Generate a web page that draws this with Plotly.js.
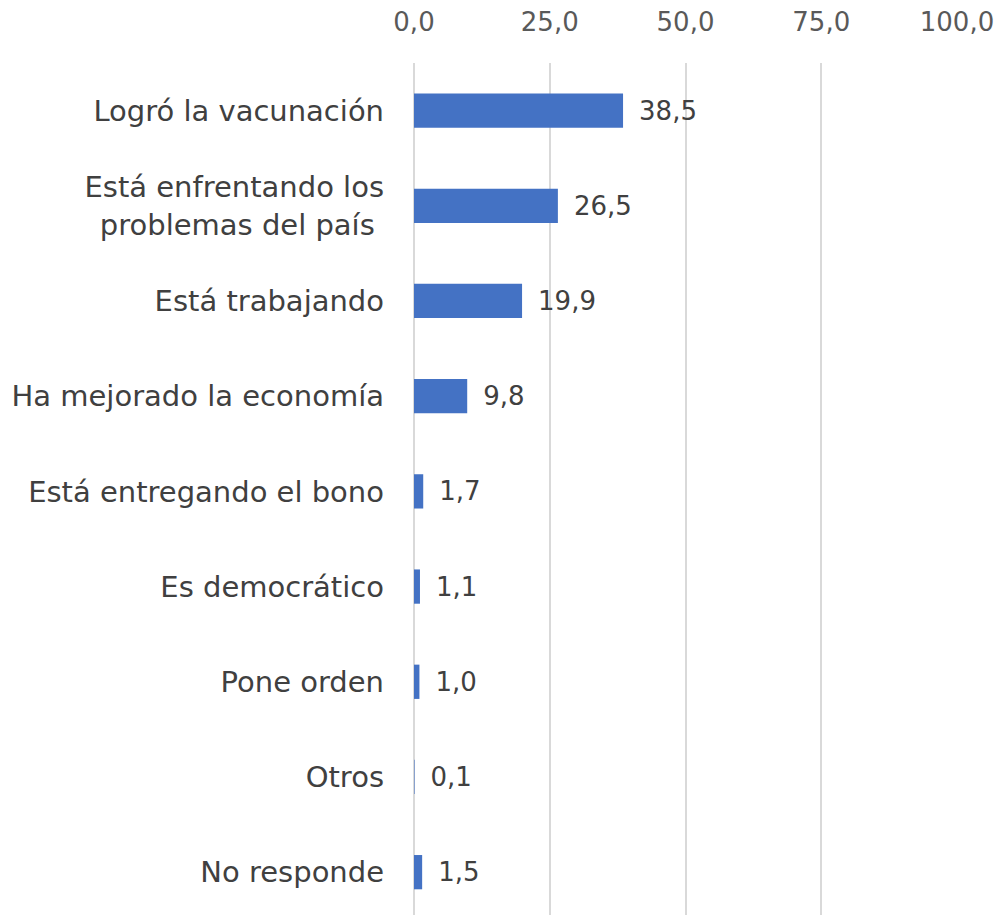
<!DOCTYPE html>
<html>
<head>
<meta charset="utf-8">
<script src="https://cdn.plot.ly/plotly-3.0.1.min.js"></script>
<style>html,body{margin:0;padding:0;background:#fff;}#chart{width:1003px;height:915px;}</style>
</head>
<body>
<div id="chart"></div>
<script>
const categories = [
  "Logró la vacunación",
  "Está enfrentando los<br>problemas del país ",
  "Está trabajando",
  "Ha mejorado la economía",
  "Está entregando el bono",
  "Es democrático",
  "Pone orden",
  "Otros",
  "No responde"
];
const values = [38.5, 26.5, 19.9, 9.8, 1.7, 1.1, 1.0, 0.1, 1.5];
const tickVals = [0, 25, 50, 75, 100];
const tickText = ["0,0", "25,0", "50,0", "75,0", "100,0"];

const labels = values.map(v => "\u2002" + v.toFixed(1).replace(".", ","));

const FONT = "DejaVu Sans, sans-serif";

const trace = {
  type: "bar",
  orientation: "h",
  y: categories,
  x: values,
  text: labels,
  textposition: "outside",
  cliponaxis: false,
  textfont: {family: FONT, size: 26, color: "#404040"},
  marker: {color: "#4472C4"},
  hoverinfo: "none"
};

const layout = {
  width: 1003,
  height: 915,
  margin: {l: 414, r: 46, t: 63, b: 0},
  paper_bgcolor: "#ffffff",
  plot_bgcolor: "#ffffff",
  bargap: 0.64,
  showlegend: false,
  font: {family: FONT, size: 26, color: "#595959"},
  xaxis: {
    side: "top",
    range: [0, 100],
    tickvals: tickVals,
    ticktext: tickText,
    showgrid: true,
    gridcolor: "#d9d9d9",
    gridwidth: 2,
    zeroline: true,
    zerolinecolor: "#d9d9d9",
    zerolinewidth: 2,
    showline: false,
    ticks: "",
    ticklabelstandoff: 26,
    tickfont: {family: FONT, size: 26, color: "#595959"},
    fixedrange: true
  },
  yaxis: {
    type: "category",
    range: [8.45, -0.5],
    showgrid: false,
    zeroline: false,
    showline: false,
    ticks: "",
    ticklabelstandoff: 29,
    tickfont: {family: FONT, size: 29, color: "#404040"},
    fixedrange: true
  }
};

Plotly.newPlot("chart", [trace], layout, {displayModeBar: false, staticPlot: true});
</script>
</body>
</html>
